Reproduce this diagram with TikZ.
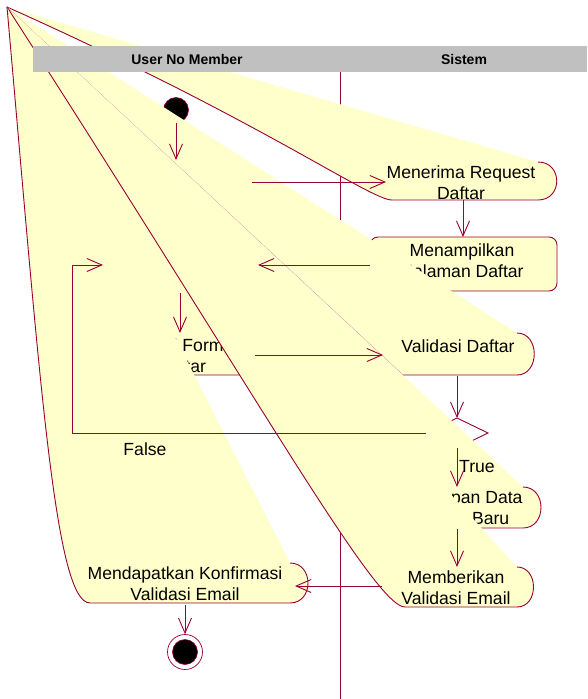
\documentclass[tikz,border=0pt]{standalone}
\usepackage{fontspec}
\setmainfont{Liberation Sans}
\usetikzlibrary{arrows.meta,shapes.geometric}
\definecolor{roseRed}{RGB}{153,0,51}
\definecolor{roseFill}{RGB}{255,255,204}
\definecolor{laneGray}{RGB}{192,192,192}

\begin{document}
\begin{tikzpicture}[x=1pt,y=1pt,yscale=-1,xscale=1,
    redline/.style={draw=roseRed,line width=0.9pt},
    flow/.style={draw=roseRed,line width=0.9pt,-{Straight Barb[length=15pt,width=13pt,line width=0.9pt]}},
    acttext/.style={inner sep=0pt,align=center,font=\fontsize{17.6}{21}\selectfont},
    lanetext/.style={inner sep=0pt,font=\fontsize{14}{16}\selectfont\bfseries}]
        \useasboundingbox (0,0) rectangle (587,699);
        %Straight Lines: lane divider
        \draw [redline,line width=0.7pt] (340,72) -- (340,699);
        %Shape: start state
        \node [circle,fill=black,draw=roseRed,line width=0.6pt,minimum size=25pt,inner sep=0pt] (start) at (176,110) {};
        %Shape: Rounded Rect
        \draw [redline,fill=roseFill,rounded corners=8pt] (370,237) rectangle (557,291);
        % Text Node
        \node [acttext] (menampilkan) at (462,261) {Menampilkan\\Halaman Daftar};
        %Shape: activity (fan)
        \fill [roseFill] (7,7) -- (250,335) .. controls (272,335) and (272,375) .. (250,375) -- (140,375) -- cycle;
        \draw [redline] (250,335) .. controls (272,335) and (272,375) .. (250,375) -- (140,375) -- (7,7);
        % Text Node
        \node [acttext] (isiform) at (182,356) {Mengisi Formulir\\Daftar};
        %Shape: activity (fan)
        \fill [roseFill] (7,7) -- (538,162) .. controls (563,162) and (563,200) .. (538,200) -- (392,200) .. controls (370,200) and (260,120) .. (7,7) -- cycle;
        \draw [redline] (538,162) .. controls (563,162) and (563,200) .. (538,200) -- (392,200) .. controls (370,200) and (260,120) .. (7,7);
        % Text Node
        \node [acttext] (menerima) at (461,183) {Menerima Request\\Daftar};
        %Shape: activity (fan)
        \fill [roseFill] (7,7) -- (517,333) .. controls (540,333) and (540,375) .. (517,375) -- (403,375) -- cycle;
        \draw [redline] (517,333) .. controls (540,333) and (540,375) .. (517,375) -- (403,375);
        \draw [roseRed!45,line width=0.5pt] (403,375) -- (7,7);
        % Text Node
        \node [acttext] (validasi) at (458,346) {Validasi Daftar};
        %Shape: decision
        \coordinate (decN) at (457,418);
        \coordinate (decE) at (488,433);
        \coordinate (decS) at (457,448);
        \coordinate (decW) at (426,433);
        \draw [redline,fill=white] (decN) -- (decE) -- (decS) -- (decW) -- cycle;
        %Shape: activity (fan)
        \fill [roseFill] (7,7) -- (523,487) .. controls (547,487) and (547,528) .. (523,528) -- (420,528) -- cycle;
        \draw [redline] (523,487) .. controls (547,487) and (547,528) .. (523,528) -- (420,528) -- (7,7);
        % Text Node
        \node [acttext] (simpan) at (456,508) {Menyimpan Data\\Member Baru};
        %Shape: activity (fan)
        \fill [roseFill] (7,7) -- (517,567) .. controls (539,567) and (539,607) .. (517,607) -- (405,607) .. controls (375,607) and (260,400) .. (7,7) -- cycle;
        \draw [redline] (517,567) .. controls (539,567) and (539,607) .. (517,607) -- (405,607) .. controls (375,607) and (260,400) .. (7,7);
        % Text Node
        \node [acttext] (memberikan) at (456,588) {Memberikan\\Validasi Email};
        %Shape: activity (fan)
        \fill [roseFill] (7,7) -- (290,563) .. controls (314,563) and (314,603) .. (290,603) -- (90,603) .. controls (55,603) and (40,380) .. (7,7) -- cycle;
        \draw [redline] (290,563) .. controls (314,563) and (314,603) .. (290,603) -- (90,603) .. controls (55,603) and (40,380) .. (7,7);
        % Text Node
        \node [acttext] (mendapatkan) at (185,584) {Mendapatkan Konfirmasi\\Validasi Email};
        %Shape: swimlane header
        \fill [laneGray] (33,46) rectangle (587,72);
        \node [lanetext] (laneUser) at (187,59) {User No Member};
        \node [lanetext] (laneSistem) at (464,59) {Sistem};
        %Shape: end state
        \node [circle,draw=roseRed,fill=white,line width=0.7pt,minimum size=35pt,inner sep=0pt] (finish) at (185,652) {};
        \node [circle,fill=black,draw=roseRed,line width=0.6pt,minimum size=25pt,inner sep=0pt] (finishDot) at (185,652) {};
        % connector ends
        \coordinate (act1N) at (176,160);
        \coordinate (act1E) at (252,182);
        \coordinate (menerimaW) at (386,182);
        \coordinate (menerimaS) at (463,200);
        \coordinate (menampilkanN) at (463,237);
        \coordinate (menampilkanW) at (370,265);
        \coordinate (act2E) at (258,265);
        \coordinate (act2W) at (103,265);
        \coordinate (act2S) at (180,293);
        \coordinate (isiN) at (180,333);
        \coordinate (isiE) at (255,355);
        \coordinate (validasiW) at (383,355);
        \coordinate (validasiS) at (457,376);
        \coordinate (falseA) at (72,433);
        \coordinate (falseB) at (72,265);
        \coordinate (simpanN) at (457,487);
        \coordinate (simpanS) at (457,529);
        \coordinate (memberikanN) at (457,567);
        \coordinate (memberikanW) at (382,586);
        \coordinate (mendapatkanE) at (295,586);
        \coordinate (mendapatkanS) at (185,605);
        %Transitions
        \draw [flow] (start) -- (act1N);
        \draw [flow] (act1E) -- (menerimaW);
        \draw [flow] (menerimaS) -- (menampilkanN);
        \draw [flow] (menampilkanW) -- (act2E);
        \draw [flow] (act2S) -- (isiN);
        \draw [flow] (isiE) -- (validasiW);
        \draw [flow] (validasiS) -- (decN);
        \draw [flow] (decW) -- (falseA) -- (falseB) -- (act2W);
        \draw [flow] (decS) -- (simpanN);
        \draw [flow] (simpanS) -- (memberikanN);
        \draw [flow] (memberikanW) -- (mendapatkanE);
        \draw [flow] (mendapatkanS) -- (finish);
        % Text Node
        \node [acttext] (lblFalse) at (145,449) {False};
        \node [acttext] (lblTrue) at (477,467) {True};
\end{tikzpicture}
\end{document}
